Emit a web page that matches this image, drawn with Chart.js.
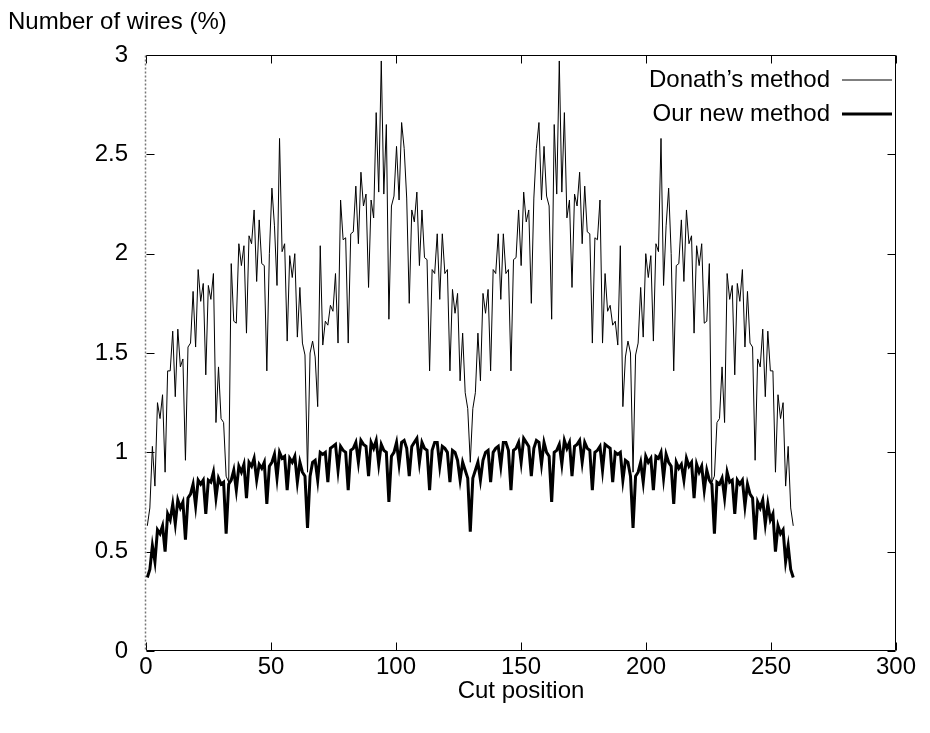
<!DOCTYPE html>
<html>
<head>
<meta charset="utf-8">
<script src="https://cdn.jsdelivr.net/npm/chart.js@4"></script>
<style>
  html, body { margin: 0; padding: 0; background: #fff; }
  #wrap { width: 930px; height: 733px; }
</style>
</head>
<body>
<div id="wrap"><canvas id="cutChart" width="930" height="733"></canvas></div>
<script>
// cut positions 1..255
const cutPositions = Array.from({ length: 255 }, (_, k) => k + 1);

const donathValues = [
  0.63,0.72,1.03,0.83,1.25,1.17,1.29,0.90,1.41,1.41,
  1.61,1.28,1.62,1.43,1.47,0.96,1.53,1.55,1.81,1.53,
  1.92,1.76,1.85,1.39,1.84,1.77,1.90,1.15,1.43,1.17,
  1.15,0.88,0.85,1.95,1.66,1.65,2.05,1.94,2.04,1.60,
  2.09,2.05,2.22,1.86,2.17,1.95,1.94,1.41,2.00,2.33,
  2.14,1.84,2.58,2.01,2.05,1.56,1.99,1.88,2.00,1.58,
  1.83,1.55,1.49,0.90,1.50,1.56,1.48,1.23,2.04,1.54,
  1.66,1.64,1.74,1.71,1.90,1.55,2.27,2.07,2.08,1.55,
  2.10,2.11,2.34,2.05,2.41,2.24,2.30,1.83,2.27,2.18,
  2.71,2.31,2.97,2.30,2.65,1.67,2.24,2.29,2.54,2.27,
  2.66,2.53,2.28,1.75,2.22,2.16,2.31,1.94,2.22,1.98,
  1.97,1.41,1.92,1.90,2.10,1.77,2.10,1.90,1.92,1.41,
  1.82,1.70,1.80,1.36,1.60,1.30,1.22,0.95,
  1.22,1.30,1.60,1.36,1.80,1.70,1.82,
  1.41,1.92,1.90,2.10,1.77,2.10,1.90,1.92,1.41,1.97,
  1.98,2.22,1.94,2.31,2.16,2.22,1.75,2.28,2.53,2.66,
  2.27,2.54,2.29,2.24,1.67,2.65,2.30,2.97,2.31,2.71,
  2.18,2.27,1.83,2.30,2.24,2.41,2.05,2.34,2.11,2.10,
  1.55,2.08,2.07,2.27,1.55,1.90,1.71,1.74,1.64,1.66,
  1.54,2.04,1.23,1.48,1.56,1.50,0.90,1.49,1.55,1.83,
  1.58,2.00,1.88,1.99,1.56,2.05,2.01,2.58,1.84,2.14,
  2.33,2.00,1.41,1.94,1.95,2.17,1.86,2.22,2.05,2.09,
  1.60,2.04,1.94,2.05,1.65,1.66,1.95,0.85,0.88,1.15,
  1.17,1.43,1.15,1.90,1.77,1.84,1.39,1.85,1.76,1.92,
  1.53,1.81,1.55,1.53,0.96,1.47,1.43,1.62,1.28,1.61,
  1.41,1.41,0.90,1.29,1.17,1.25,0.83,1.03,0.72,0.63
];

const ourValues = [
  0.37,0.41,0.53,0.45,0.61,0.59,0.63,0.50,0.69,0.66,
  0.74,0.64,0.76,0.72,0.75,0.56,0.77,0.79,0.84,0.73,
  0.86,0.84,0.86,0.69,0.86,0.85,0.90,0.77,0.87,0.84,
  0.85,0.59,0.84,0.86,0.91,0.81,0.93,0.90,0.94,0.77,
  0.95,0.93,0.97,0.86,0.94,0.92,0.95,0.74,0.93,0.95,
  0.99,0.87,1.00,0.97,0.98,0.81,0.97,0.95,0.98,0.85,
  0.95,0.90,0.88,0.62,0.88,0.95,0.96,0.86,1.00,0.99,
  1.00,0.85,1.02,1.03,1.04,0.91,1.03,1.01,1.00,0.81,
  1.01,1.02,1.05,0.95,1.06,1.04,1.03,0.88,1.05,1.02,
  1.06,0.94,1.04,1.01,1.00,0.75,0.98,1.00,1.05,0.94,
  1.05,1.06,1.02,0.88,1.03,1.05,1.07,0.95,1.05,1.02,
  1.01,0.81,1.01,1.05,1.05,0.93,1.03,1.02,1.00,0.85,
  1.01,1.00,0.96,0.86,0.95,0.91,0.87,0.60,
  0.87,0.91,0.95,0.86,0.96,1.00,1.01,
  0.85,1.00,1.02,1.03,0.93,1.05,1.05,1.01,0.81,1.01,
  1.02,1.05,0.95,1.07,1.05,1.03,0.88,1.02,1.06,1.05,
  0.94,1.05,1.00,0.98,0.75,1.00,1.01,1.04,0.94,1.06,
  1.02,1.05,0.88,1.03,1.04,1.06,0.95,1.05,1.02,1.01,
  0.81,1.00,1.01,1.03,0.91,1.04,1.03,1.02,0.85,1.00,
  0.99,1.00,0.86,0.96,0.95,0.88,0.62,0.88,0.90,0.95,
  0.85,0.98,0.95,0.97,0.81,0.98,0.97,1.00,0.87,0.99,
  0.95,0.93,0.74,0.95,0.92,0.94,0.86,0.97,0.93,0.95,
  0.77,0.94,0.90,0.93,0.81,0.91,0.86,0.84,0.59,0.85,
  0.84,0.87,0.77,0.90,0.85,0.86,0.69,0.86,0.84,0.86,
  0.73,0.84,0.79,0.77,0.56,0.75,0.72,0.76,0.64,0.74,
  0.66,0.69,0.50,0.63,0.59,0.61,0.45,0.53,0.41,0.37
];

const xTicks = [0, 50, 100, 150, 200, 250, 300];
const yTicks = [0, 0.5, 1, 1.5, 2, 2.5, 3];
const seriesNames = ["Donath\u2019s method", "Our new method"];
const xTitle = "Cut position";
const yTitle = "Number of wires (%)";

const FONT = "'Liberation Sans', Arial, Helvetica, sans-serif";

// frame, inward ticks, legend and the y title, gnuplot style
const gnuplotFrame = {
  id: "gnuplotFrame",
  beforeDatasetsDraw(chart) {
    const { ctx, chartArea: a, scales } = chart;
    const L = Math.round(a.left) + 0.5, R = Math.round(a.right) - 0.5;
    const T = Math.round(a.top) + 0.5, B = Math.round(a.bottom) - 0.5;
    ctx.save();
    ctx.strokeStyle = "#000";
    ctx.lineWidth = 1;
    ctx.beginPath();
    ctx.moveTo(L, T); ctx.lineTo(R, T); ctx.lineTo(R, B); ctx.lineTo(L, B);
    xTicks.forEach(v => {
      const px = Math.round(scales.x.getPixelForValue(v)) + 0.5;
      ctx.moveTo(px, B); ctx.lineTo(px, B - 8);
      ctx.moveTo(px, T); ctx.lineTo(px, T + 8);
    });
    yTicks.forEach(v => {
      const py = Math.round(scales.y.getPixelForValue(v)) + 0.5;
      ctx.moveTo(L, py); ctx.lineTo(L + 8, py);
      ctx.moveTo(R, py); ctx.lineTo(R - 8, py);
    });
    ctx.stroke();
    // left edge is the dotted zero axis
    ctx.strokeStyle = "#777";
    ctx.lineWidth = 1.5;
    ctx.setLineDash([2, 2]);
    ctx.beginPath();
    ctx.moveTo(L - 1, T); ctx.lineTo(L - 1, B);
    ctx.stroke();
    ctx.restore();
  },
  afterDraw(chart) {
    const { ctx, chartArea: a } = chart;
    ctx.save();
    ctx.fillStyle = "#000";
    ctx.font = "24px " + FONT;
    ctx.textBaseline = "middle";
    ctx.textAlign = "left";
    ctx.fillText(yTitle, 8, 22);
    ctx.textAlign = "right";
    chart.data.datasets.forEach((ds, k) => {
      const y = a.top + 25 + k * 34;
      ctx.fillText(ds.label, a.right - 66, y);
      ctx.strokeStyle = ds.borderColor;
      ctx.lineWidth = ds.borderWidth;
      ctx.beginPath();
      ctx.moveTo(a.right - 54, y);
      ctx.lineTo(a.right - 4, y);
      ctx.stroke();
    });
    ctx.restore();
  }
};

window.onload = function() {
  let cutChart = document.getElementById("cutChart").getContext("2d");
  new Chart(cutChart, {
    type: "line",
    data: {
      datasets: [
        {
          label: seriesNames[0],
          data: donathValues.map((v, k) => ({ x: cutPositions[k], y: v })),
          borderColor: "#000",
          borderWidth: 1,
          pointRadius: 0,
          tension: 0,
          xAxisID: "xd"
        },
        {
          label: seriesNames[1],
          data: ourValues.map((v, k) => ({ x: cutPositions[k], y: v })),
          borderColor: "#000",
          borderWidth: 3,
          pointRadius: 0,
          tension: 0,
          xAxisID: "xd"
        }
      ]
    },
    options: {
      responsive: false,
      animation: false,
      layout: { padding: { top: 55, right: 34, bottom: 27, left: 0 } },
      plugins: {
        legend: { display: false },
        tooltip: { enabled: false }
      },
      scales: {
        x: {
          type: "linear",
          position: "bottom",
          min: 0,
          max: 300,
          afterBuildTicks: s => { s.ticks = xTicks.map(v => ({ value: v })); },
          ticks: { color: "#000", font: { family: FONT, size: 24 }, padding: 2, maxRotation: 0 },
          grid: { display: false, drawTicks: false },
          border: { display: false },
          title: { display: true, text: xTitle, color: "#000", font: { family: FONT, size: 24 }, padding: 0 },
          afterFit: s => { s.height = 55; }
        },
        xd: {
          type: "linear",
          position: "bottom",
          display: false,
          min: 0.488,
          max: 295.4
        },
        y: {
          type: "linear",
          min: 0,
          max: 3,
          afterBuildTicks: s => { s.ticks = yTicks.map(v => ({ value: v })); },
          ticks: {
            color: "#000",
            font: { family: FONT, size: 24 },
            padding: 18,
            callback: v => String(v)
          },
          grid: { display: false, drawTicks: false },
          border: { display: false },
          afterFit: s => { s.width = 146; }
        }
      }
    },
    plugins: [gnuplotFrame]
  });
};
</script>
</body>
</html>
